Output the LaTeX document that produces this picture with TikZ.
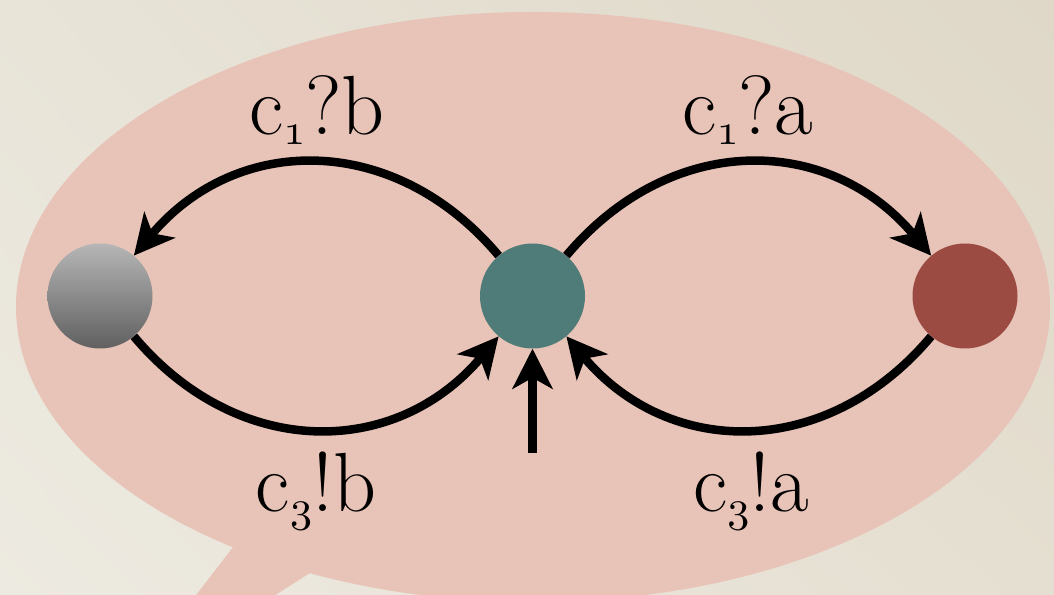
\documentclass[tikz,border=0pt]{standalone}
\usepackage{graphicx}
\usetikzlibrary{arrows.meta,shadings}
\definecolor{bgTL}{RGB}{232,228,216}
\definecolor{bgTR}{RGB}{223,216,200}
\definecolor{bgBL}{RGB}{237,234,225}
\definecolor{bgBR}{RGB}{229,223,209}
\definecolor{bubble}{RGB}{232,195,183}
\definecolor{stTeal}{RGB}{79,123,120}
\definecolor{stRed}{RGB}{155,75,66}
\definecolor{greyT}{RGB}{182,182,182}
\definecolor{greyB}{RGB}{96,96,96}
\newcommand\osub[1]{\raisebox{-10pt}{\scalebox{4.4}{\fontsize{10}{10}\usefont{OML}{cmm}{m}{it}#1}}}
\begin{document}
\begin{tikzpicture}[x=1pt,y=1pt,
  state/.style={circle,minimum size=105pt,inner sep=0pt,draw=none},
  edge/.style={line width=8.5pt,-{Stealth[length=40pt,width=40pt,inset=11pt]}},
  lbl/.style={font=\fontsize{84}{84}\selectfont,inner sep=0pt,anchor=base}]
\useasboundingbox (0,0) rectangle (1054,594);
\clip (0,0) rectangle (1054,594);
\shade[upper left=bgTL,upper right=bgTR,lower left=bgBL,lower right=bgBR] (0,0) rectangle (1054,594);
\fill[bubble] (533,287) ellipse [x radius=517, y radius=295];
\fill[bubble] (120,-100) -- (320,160) -- (481,130) -- cycle;
\node[state,fill=stTeal] (c) at (532.5,298) {};
\node[state,top color=greyT,bottom color=greyB,shading=axis] (l) at (100,298) {};
\node[state,fill=stRed] (r) at (965,298) {};
\draw[edge] (c) to[out=130,in=50,looseness=1.13] (l);
\draw[edge] (c) to[out=50,in=130,looseness=1.13] (r);
\draw[edge] (l) to[out=-50,in=-130,looseness=1.13] (c);
\draw[edge] (r) to[out=-130,in=-50,looseness=1.13] (c);
\coordinate (init) at (532.5,141);
\draw[edge,line width=8.5pt] (init) -- (c);
\node[lbl] (t1) at (317,459) {c\osub{1}?b};
\node[lbl] (t2) at (748,459) {c\osub{1}?a};
\node[lbl] (b1) at (316,82) {c\osub{3}!b};
\node[lbl] (b2) at (751,82) {c\osub{3}!a};
\end{tikzpicture}
\end{document}
